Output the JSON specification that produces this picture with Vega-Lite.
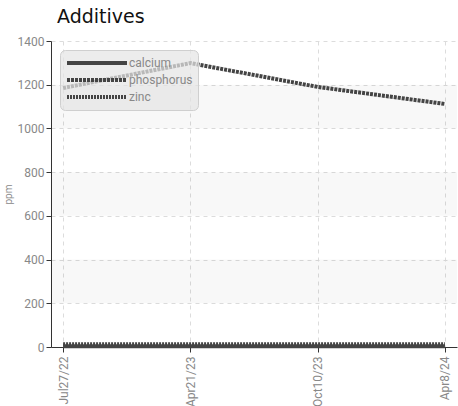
{
  "$schema": "https://vega.github.io/schema/vega-lite/v6.json",
  "autosize": "none",
  "width": 406,
  "height": 306,
  "padding": {"left": 51, "top": 41, "right": 1, "bottom": 59},
  "background": "white",
  "title": {"text": "Additives", "anchor": "start", "frame": "group", "dx": 6, "offset": 8, "fontSize": 19, "font": "DejaVu Sans", "fontWeight": "normal", "color": "#111"},
  "datasets": {
    "bands": [
      {"lo": 200, "hi": 400},
      {"lo": 600, "hi": 800},
      {"lo": 1000, "hi": 1200}
    ],
    "readings": [
      {"date": "Jul27/22", "element": "calcium", "ppm": 4},
      {"date": "Apr21/23", "element": "calcium", "ppm": 4},
      {"date": "Oct10/23", "element": "calcium", "ppm": 4},
      {"date": "Apr8/24", "element": "calcium", "ppm": 4},
      {"date": "Jul27/22", "element": "phosphorus", "ppm": 1185},
      {"date": "Apr21/23", "element": "phosphorus", "ppm": 1299},
      {"date": "Oct10/23", "element": "phosphorus", "ppm": 1190},
      {"date": "Apr8/24", "element": "phosphorus", "ppm": 1112},
      {"date": "Jul27/22", "element": "zinc", "ppm": 13},
      {"date": "Apr21/23", "element": "zinc", "ppm": 13},
      {"date": "Oct10/23", "element": "zinc", "ppm": 13},
      {"date": "Apr8/24", "element": "zinc", "ppm": 13}
    ]
  },
  "config": {
    "view": {"stroke": null},
    "axis": {
      "labelFont": "Roboto", "labelFontSize": 12, "labelColor": "#888",
      "titleFont": "Roboto", "titleFontSize": 10, "titleColor": "#888", "titleFontWeight": "normal",
      "domainColor": "#333", "tickColor": "#333", "tickSize": 5,
      "gridColor": "#dcdcdc", "gridDash": [4, 4], "gridWidth": 1
    },
    "legend": {
      "orient": "top-left", "offset": 9, "padding": 5,
      "fillColor": "rgba(228,228,228,0.72)", "strokeColor": "#cfcfcf", "cornerRadius": 5,
      "symbolType": "M-1,0H9", "symbolSize": 144, "symbolStrokeWidth": 4, "symbolStrokeColor": "#444",
      "symbolFillColor": "transparent",
      "labelFont": "Roboto", "labelFontSize": 12, "labelColor": "#888", "labelOffset": 48,
      "rowPadding": 1
    }
  },
  "layer": [
    {
      "data": {"name": "bands"},
      "mark": {"type": "rect", "color": "#000", "opacity": 0.028},
      "encoding": {
        "y": {"field": "lo", "type": "quantitative", "scale": {"domain": [0, 1400]}},
        "y2": {"field": "hi"}
      }
    },
    {
      "data": {"name": "readings"},
      "mark": {"type": "line", "color": "#444", "strokeWidth": 4},
      "encoding": {
        "x": {"field": "date", "type": "ordinal", "sort": ["Jul27/22", "Apr21/23", "Oct10/23", "Apr8/24"],
              "scale": {"type": "point", "padding": 0.095},
              "axis": {"title": null, "labelAngle": -90, "grid": true, "labelPadding": 4}},
        "y": {"field": "ppm", "type": "quantitative", "scale": {"domain": [0, 1400]},
              "axis": {"title": "ppm", "format": "d", "values": [0, 200, 400, 600, 800, 1000, 1200, 1400], "grid": true, "titlePadding": 4}},
        "strokeDash": {"field": "element", "type": "nominal",
                       "scale": {"domain": ["calcium", "phosphorus", "zinc"], "range": [[1, 0], [3, 1], [2, 1]]},
                       "legend": {"title": null}}
      }
    }
  ]
}
